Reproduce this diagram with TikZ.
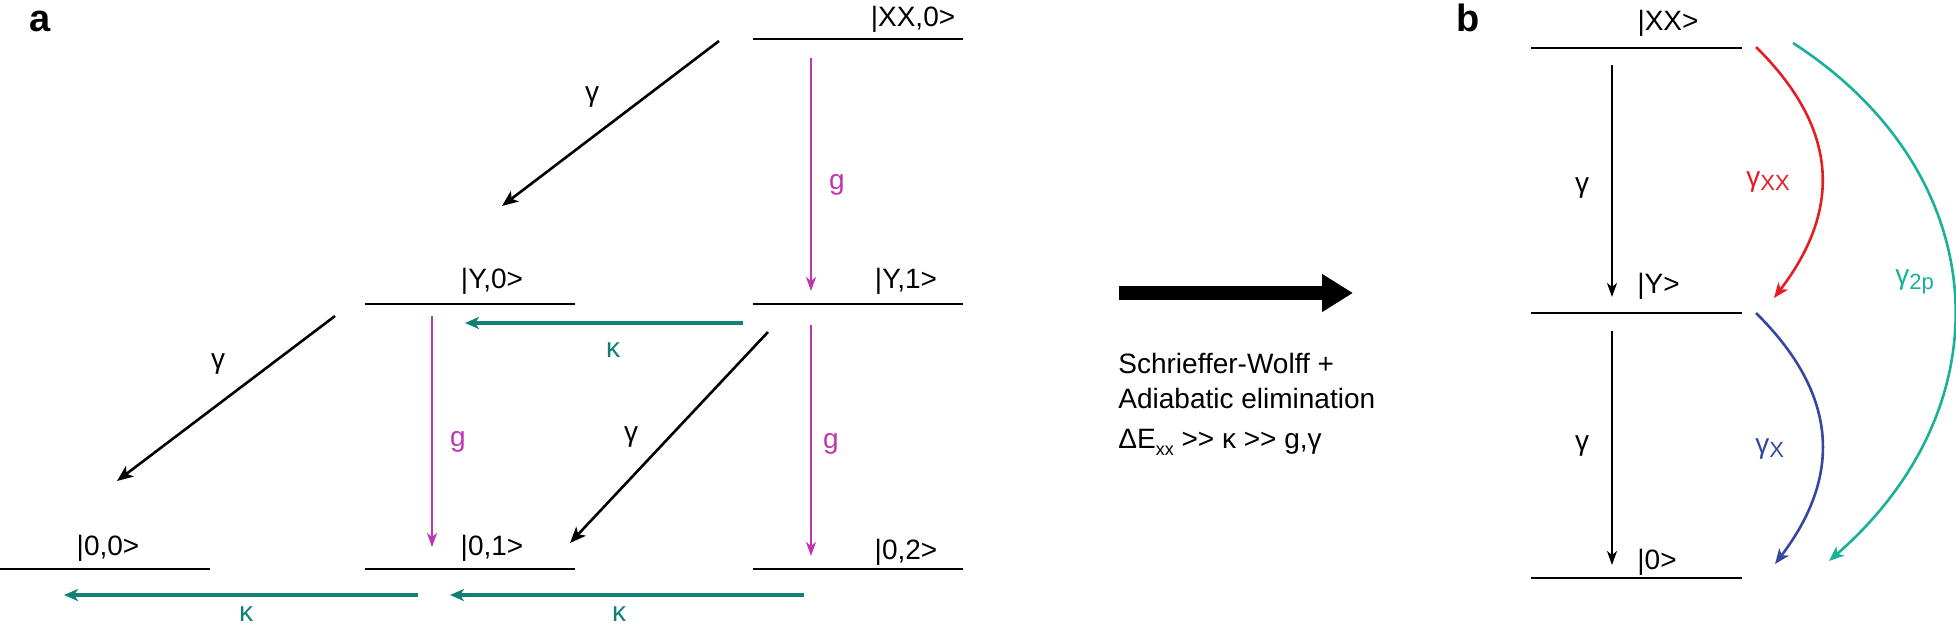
\documentclass[tikz,border=0pt]{standalone}
\usepackage{fontspec}
\setmainfont{Liberation Sans}
\usetikzlibrary{arrows.meta}
\definecolor{mag}{RGB}{192,54,176}
\definecolor{kteal}{RGB}{19,128,116}
\definecolor{lteal}{RGB}{26,176,154}
\definecolor{fred}{RGB}{227,30,36}
\definecolor{fblue}{RGB}{51,72,158}
\tikzset{
  level/.style={line width=1pt, black},
  lbl/.style={anchor=base, inner sep=0pt, font=\fontsize{14}{16}\selectfont},
  lblw/.style={anchor=base west, inner sep=0pt, font=\fontsize{14}{16}\selectfont},
  rate/.style={inner sep=0pt, font=\fontsize{14}{16}\selectfont},
  panel/.style={anchor=base, inner sep=0pt, font=\fontsize{19}{20}\selectfont\bfseries},
  decay/.style={line width=1.3pt, black, -{Stealth[length=8pt,width=6.5pt,inset=2pt]}},
  coup/.style={line width=1.1pt, mag, -{Stealth[length=7pt,width=5pt,inset=2pt]}},
  loss/.style={line width=1.6pt, kteal, -{Stealth[length=7pt,width=6pt,inset=2pt]}},
  vdecay/.style={line width=0.9pt, black, -{Stealth[length=7pt,width=5pt,inset=2pt]}},
  eff/.style={line width=1.3pt, -{Stealth[length=7.5pt,width=6pt,inset=2pt]}}
}
\begin{document}
\begin{tikzpicture}[x=0.5pt,y=-0.5pt]
\useasboundingbox (0,0) rectangle (1956,626);

% ---------- panel a ----------
\node[panel] (pa) at (40,32) {a};

% levels
\coordinate (XX0l) at (753,39);  \coordinate (XX0r) at (963,39);
\coordinate (Y0l) at (365,304);  \coordinate (Y0r) at (575,304);
\coordinate (Y1l) at (753,304);  \coordinate (Y1r) at (963,304);
\coordinate (O0l) at (0,569);    \coordinate (O0r) at (210,569);
\coordinate (O1l) at (365,569);  \coordinate (O1r) at (575,569);
\coordinate (O2l) at (753,569);  \coordinate (O2r) at (963,569);
\draw[level] (XX0l) -- (XX0r);
\draw[level] (Y0l) -- (Y0r);
\draw[level] (Y1l) -- (Y1r);
\draw[level] (O0l) -- (O0r);
\draw[level] (O1l) -- (O1r);
\draw[level] (O2l) -- (O2r);

\node[lbl] (lXX0) at (913,27) {|XX,0>};
\node[lbl] (lY0) at (492,288) {|Y,0>};
\node[lbl] (lY1) at (906,288) {|Y,1>};
\node[lbl] (l00) at (108,555) {|0,0>};
\node[lbl] (l01) at (492,555) {|0,1>};
\node[lbl] (l02) at (906,559) {|0,2>};

% arrow end points
\coordinate (d1s) at (719,41);  \coordinate (d1e) at (502,206);
\coordinate (d2s) at (335,316); \coordinate (d2e) at (117,481);
\coordinate (d3s) at (768,332); \coordinate (d3e) at (570,543);
\coordinate (g1s) at (811,58);  \coordinate (g1e) at (811,291);
\coordinate (g2s) at (432,316); \coordinate (g2e) at (432,547);
\coordinate (g3s) at (811,325); \coordinate (g3e) at (811,556);
\coordinate (k1s) at (743,323); \coordinate (k1e) at (465,323);
\coordinate (k2s) at (418,595); \coordinate (k2e) at (64,595);
\coordinate (k3s) at (804,595); \coordinate (k3e) at (450,595);

\draw[decay] (d1s) -- (d1e);
\draw[decay] (d2s) -- (d2e);
\draw[decay] (d3s) -- (d3e);
\draw[coup] (g1s) -- (g1e);
\draw[coup] (g2s) -- (g2e);
\draw[coup] (g3s) -- (g3e);
\draw[loss] (k1s) -- (k1e);
\draw[loss] (k2s) -- (k2e);
\draw[loss] (k3s) -- (k3e);

\node[rate] (rd1) at (592,97) {γ};
\node[rate] (rd2) at (218,364) {γ};
\node[rate] (rd3) at (631,437) {γ};
\node[rate, mag] (rg1) at (837,185) {g};
\node[rate, mag] (rg2) at (458,442) {g};
\node[rate, mag] (rg3) at (831,444) {g};
\node[rate, kteal] (rk1) at (613,350) {κ};
\node[rate, kteal] (rk2) at (246,614) {κ};
\node[rate, kteal] (rk3) at (619,614) {κ};

% ---------- middle ----------
\coordinate (bas) at (1119,293); \coordinate (bae) at (1353,293);
\draw[line width=7pt, -{Triangle[length=15.5pt,width=18pt]}] (bas) -- (bae);
\node[lblw] (t1) at (1118,373) {Schrieffer-Wolff +};
\node[lblw] (t2) at (1118,408) {Adiabatic elimination};
\node[lblw] (t3) at (1118,448) {ΔE\raisebox{-0.5ex}{\fontsize{9}{9}\selectfont xx} >{}> κ >{}> g,γ};

% ---------- panel b ----------
\node[panel] (pb) at (1468,32) {b};
\coordinate (XXl) at (1531,48);  \coordinate (XXr) at (1742,48);
\coordinate (Yl) at (1531,313);  \coordinate (Yr) at (1742,313);
\coordinate (Gl) at (1531,578);  \coordinate (Gr) at (1742,578);
\draw[level] (XXl) -- (XXr);
\draw[level] (Yl) -- (Yr);
\draw[level] (Gl) -- (Gr);
\node[lbl] (lXX) at (1668,31) {|XX>};
\node[lblw] (lY) at (1637,293) {|Y>};
\node[lblw] (lG) at (1637,569) {|0>};

\coordinate (b1s) at (1612,65);  \coordinate (b1e) at (1612,297);
\coordinate (b2s) at (1612,331); \coordinate (b2e) at (1612,565);
\draw[vdecay] (b1s) -- (b1e);
\draw[vdecay] (b2s) -- (b2e);
\node[rate] (rb1) at (1582,188) {γ};
\node[rate] (rb2) at (1582,446) {γ};

\coordinate (rs) at (1756,47);  \coordinate (re) at (1774,298);
\coordinate (bs) at (1756,313); \coordinate (be) at (1775,564);
\coordinate (ts) at (1793,43);  \coordinate (te) at (1829,561);
\draw[eff, fred] (rs) .. controls (1835,125) and (1845,205) .. (re);
\draw[eff, fblue] (bs) .. controls (1835,391) and (1845,472) .. (be);
\draw[eff, lteal] (ts) .. controls (1994,173) and (2009,404) .. (te);

\node[rate, fred, anchor=base west] (rxx) at (1746,186) {γ\raisebox{-0.3ex}{\fontsize{11}{11}\selectfont XX}};
\node[rate, fblue, anchor=base west] (rx) at (1755,453) {γ\raisebox{-0.3ex}{\fontsize{11}{11}\selectfont X}};
\node[rate, lteal, anchor=base west] (r2p) at (1895,285) {γ\raisebox{-0.3ex}{\fontsize{11}{11}\selectfont 2p}};
\end{tikzpicture}
\end{document}
